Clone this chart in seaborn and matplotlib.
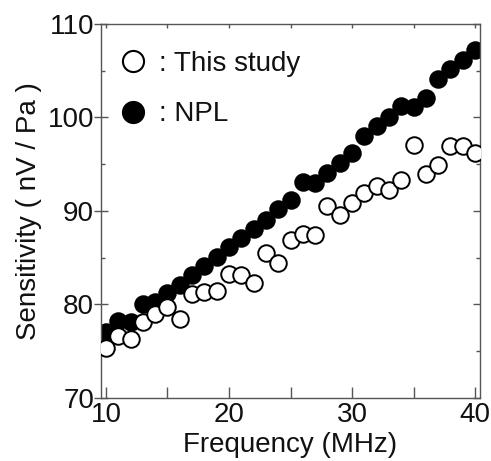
import matplotlib
matplotlib.use('Agg')
from matplotlib import pyplot as plt
from matplotlib.lines import Line2D
from matplotlib.ticker import MultipleLocator
import pandas as pd
import seaborn as sns

freq = list(range(10, 41))

this_study = [75.3, 76.6, 76.3, 78.1, 79.0, 79.7, 78.5, 81.1, 81.3, 81.4,
              83.3, 83.2, 82.3, 85.5, 84.4, 86.9, 87.5, 87.4, 90.5, 89.6,
              90.8, 91.9, 92.7, 92.2, 93.3, 97.1, 94.0, 94.9, 97.0, 96.9,
              96.2]

npl = [77.1, 78.2, 78.1, 80.1, 80.3, 81.2, 82.1, 83.2, 84.1, 85.1,
       86.1, 87.1, 88.1, 89.0, 90.2, 91.2, 93.1, 93.0, 94.1, 95.1,
       96.2, 98.0, 99.1, 100.1, 101.2, 101.1, 102.1, 104.1, 105.2, 106.1,
       107.2]

labels = [': This study', ': NPL']

df_this = pd.DataFrame({'freq': freq, 'sens': this_study})
df_npl = pd.DataFrame({'freq': freq, 'sens': npl})

sns.set_style('ticks')
plt.rcParams['font.family'] = ['Liberation Sans', 'DejaVu Sans']
plt.rcParams['font.size'] = 20
plt.rcParams['text.color'] = '#111111'
plt.rcParams['axes.labelcolor'] = '#111111'
plt.rcParams['xtick.labelcolor'] = '#111111'
plt.rcParams['ytick.labelcolor'] = '#111111'

fig = plt.figure(figsize=(4.91, 4.61), dpi=100)
ax = fig.add_axes([0.2057, 0.1367, 0.7719, 0.8113])

sns.scatterplot(data=df_npl, x='freq', y='sens', ax=ax, s=142, marker='o',
                color='black', edgecolor='black', linewidth=1.4,
                legend=False, zorder=2)
sns.scatterplot(data=df_this, x='freq', y='sens', ax=ax, s=142, marker='o',
                facecolor='white', edgecolor='black', linewidth=1.4,
                legend=False, zorder=3)

ax.set_xlim(9.6, 40.4)
ax.set_ylim(70, 110)
ax.xaxis.set_major_locator(MultipleLocator(10))
ax.xaxis.set_minor_locator(MultipleLocator(5))
ax.yaxis.set_major_locator(MultipleLocator(10))
ax.yaxis.set_minor_locator(MultipleLocator(5))

spine_col = '#555555'
for s in ax.spines.values():
    s.set_visible(True)
    s.set_color(spine_col)
    s.set_linewidth(1.0)

ax.tick_params(axis='x', which='both', direction='in', length=8, width=1.0,
               color=spine_col, labelsize=20, pad=3, top=False)
ax.tick_params(axis='y', which='major', direction='inout', length=10, width=1.0,
               color=spine_col, labelsize=20, pad=0, right=False)
ax.tick_params(axis='y', which='minor', direction='in', length=3, width=1.0,
               color=spine_col, right=False)

top = ax.secondary_xaxis('top')
top.xaxis.set_major_locator(MultipleLocator(5))
top.tick_params(direction='in', length=3, width=1.0, color=spine_col, labeltop=False)
top.spines['top'].set_visible(False)
right = ax.secondary_yaxis('right')
right.yaxis.set_major_locator(MultipleLocator(10))
right.yaxis.set_minor_locator(MultipleLocator(5))
right.tick_params(which='major', direction='in', length=5, width=1.0, color=spine_col, labelright=False)
right.tick_params(which='minor', direction='in', length=3, width=1.0, color=spine_col)
right.spines['right'].set_visible(False)

ax.set_xlabel('Frequency (MHz)', fontsize=20, labelpad=3)
ax.set_ylabel('Sensitivity ( nV / Pa )', fontsize=20, labelpad=4)

handles = [
    Line2D([], [], linestyle='none', marker='o', markersize=15.2,
           markerfacecolor='white', markeredgecolor='black', markeredgewidth=1.5),
    Line2D([], [], linestyle='none', marker='o', markersize=15.2,
           markerfacecolor='black', markeredgecolor='black', markeredgewidth=1.5),
]
ax.legend(handles, labels, loc='upper left', bbox_to_anchor=(0.018, 0.958),
          frameon=False, fontsize=20, handletextpad=0.45, labelspacing=0.885,
          borderaxespad=0, handlelength=1.0)

fig.savefig('out.png', dpi=100)
